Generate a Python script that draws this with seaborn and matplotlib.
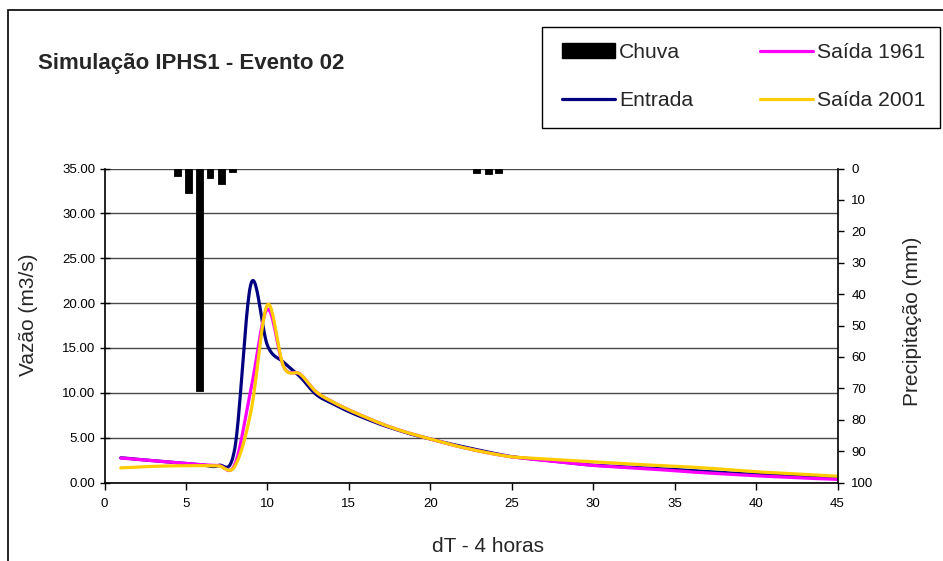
import numpy as np
import matplotlib
matplotlib.use("Agg")
import matplotlib.pyplot as plt
import seaborn as sns
from matplotlib.patches import Patch, Rectangle
from matplotlib.lines import Line2D
from matplotlib.ticker import FormatStrFormatter

# ---------------- data ----------------
dt = list(range(1, 46))
entrada = [2.75, 2.59, 2.43, 2.27, 2.11, 1.97, 1.90, 3.80, 22.2, 15.3,
           13.4, 11.8, 9.8, 8.8, 7.9, 7.15, 6.45, 5.85, 5.3, 4.85,
           4.4, 4.0, 3.6, 3.22, 2.88, 2.68, 2.5, 2.3, 2.1, 1.93,
           1.83, 1.73, 1.63, 1.54, 1.45, 1.33, 1.22, 1.10, 1.00, 0.90,
           0.82, 0.75, 0.68, 0.60, 0.52]
saida_1961 = [2.72, 2.57, 2.42, 2.27, 2.12, 1.98, 1.90, 2.00, 10.5, 19.3,
              12.9, 12.1, 10.1, 9.0, 8.1, 7.3, 6.55, 5.9, 5.35, 4.85,
              4.35, 3.9, 3.5, 3.15, 2.86, 2.65, 2.45, 2.27, 2.08, 1.90,
              1.78, 1.66, 1.55, 1.44, 1.30, 1.18, 1.06, 0.96, 0.86, 0.75,
              0.66, 0.57, 0.49, 0.42, 0.35]
saida_2001 = [1.63, 1.72, 1.80, 1.85, 1.87, 1.88, 1.85, 1.80, 8.0, 19.8,
              12.9, 12.1, 10.1, 9.0, 8.1, 7.3, 6.55, 5.9, 5.35, 4.85,
              4.35, 3.9, 3.5, 3.15, 2.86, 2.74, 2.63, 2.52, 2.41, 2.30,
              2.20, 2.10, 1.99, 1.90, 1.82, 1.72, 1.60, 1.48, 1.34, 1.20,
              1.10, 1.00, 0.90, 0.80, 0.70]
rain_x = [4.47, 5.15, 5.85, 6.48, 7.16, 7.87, 22.86, 23.56, 24.21]
rain_mm = [2.4, 7.8, 71.0, 2.9, 4.8, 1.1, 1.3, 1.7, 1.3]

x_ticks = list(range(0, 46, 5))
q_ticks = [0, 5, 10, 15, 20, 25, 30, 35]
p_ticks = list(range(0, 101, 10))

title = "Simulação IPHS1 - Evento 02"
ylabel_left = "Vazão (m3/s)"
ylabel_right = "Precipitação (mm)"
xlabel = "dT - 4 horas"
legend_labels = ["Chuva", "Entrada", "Saída 1961", "Saída 2001"]

# ---------------- style ----------------
sns.set_style("white")
plt.rcParams["font.family"] = ["Liberation Sans", "DejaVu Sans"]


def excel_smooth(x, y, n=24):
    """Smoothed-line rendering (cubic Hermite / Catmull-Rom, like Excel's 'smoothed line')."""
    x = np.asarray(x, float)
    y = np.asarray(y, float)
    m = np.empty_like(y)
    m[1:-1] = (y[2:] - y[:-2]) / 2.0
    m[0] = (y[1] - y[0]) / 2.0
    m[-1] = (y[-1] - y[-2]) / 2.0
    xs, ys = [x[0]], [y[0]]
    t = np.linspace(0, 1, n + 1)[1:]
    h00 = 2 * t**3 - 3 * t**2 + 1
    h10 = t**3 - 2 * t**2 + t
    h01 = -2 * t**3 + 3 * t**2
    h11 = t**3 - t**2
    for i in range(len(x) - 1):
        dx = x[i + 1] - x[i]
        xs.extend(x[i] + t * dx)
        ys.extend(h00 * y[i] + h10 * m[i] + h01 * y[i + 1] + h11 * m[i + 1])
    return np.array(xs), np.array(ys)


W, H = 943, 561
fig = plt.figure(figsize=(W / 100, H / 100), dpi=100)
fig.patch.set_facecolor("white")
ax = fig.add_axes([104.5 / W, 1 - 482.5 / H, 733 / W, 314 / H])

series = [(entrada, "#000080"), (saida_1961, "#FF00FF"), (saida_2001, "#FFCC00")]
for vals, col in series:
    xs, ys = excel_smooth(dt, vals)
    sns.lineplot(x=xs, y=ys, ax=ax, color=col, lw=2.3, estimator=None,
                 sort=False, legend=False)

ax.set_xlim(0, 45)
ax.set_ylim(0, 35)
ax.set_xticks(x_ticks)
ax.set_yticks(q_ticks)
ax.yaxis.set_major_formatter(FormatStrFormatter("%.2f"))
ax.yaxis.grid(True, color="#4a4a4a", lw=1.0)
ax.xaxis.grid(False)
ax.set_axisbelow(True)
ax.set_xlabel("")
ax.set_ylabel("")
for s in ["top", "right"]:
    ax.spines[s].set_visible(False)
ax.spines["left"].set_color("black")
ax.spines["left"].set_linewidth(1.2)
ax.spines["bottom"].set_color("black")
ax.spines["bottom"].set_linewidth(1.2)
ax.tick_params(axis="y", direction="inout", length=7, width=1, labelsize=9.5,
               colors="black", pad=3, left=True)
ax.tick_params(axis="x", direction="out", length=5, width=1, labelsize=9.5,
               colors="black", pad=6, bottom=True)

ax2 = ax.twinx()
ax2.bar(rain_x, rain_mm, width=0.42, color="black", edgecolor="black",
        linewidth=0.6, bottom=0, zorder=3)
ax2.set_ylim(100, 0)
ax2.set_yticks(p_ticks)
for s in ["top", "left", "bottom"]:
    ax2.spines[s].set_visible(False)
ax2.spines["right"].set_color("black")
ax2.spines["right"].set_linewidth(1.2)
ax2.tick_params(axis="y", direction="out", length=4, width=1, labelsize=9.5,
                colors="black", pad=6, right=True)
ax2.set_ylabel("")

# texts
fig.text(38 / W, 1 - 63 / H, title, fontsize=16, weight="bold",
         ha="left", va="center")
fig.text(28 / W, 1 - 315 / H, ylabel_left, rotation=90, fontsize=15,
         ha="center", va="center")
fig.text(912 / W, 1 - 321 / H, ylabel_right, rotation=90, fontsize=15,
         ha="center", va="center")
fig.text(488 / W, 1 - 546 / H, xlabel, fontsize=15, ha="center", va="center")

# outer chart border (cropped at right and bottom)
fig.add_artist(Rectangle((8 / W, -0.2), 1.3, 1.2 - 10 / H,
                         transform=fig.transFigure, fill=False,
                         ec="black", lw=1.2))

# legend box
fig.add_artist(Rectangle((542 / W, 1 - 128 / H), (940 - 542) / W, (128 - 27) / H,
                         transform=fig.transFigure, fill=True, fc="white",
                         ec="black", lw=1.0, zorder=4))
handles = [Patch(facecolor="black", edgecolor="black"),
           Line2D([], [], color="#000080", lw=2.3),
           Line2D([], [], color="#FF00FF", lw=2.3),
           Line2D([], [], color="#FFCC00", lw=2.3)]
leg = fig.legend(handles, legend_labels, loc="center left",
                 bbox_to_anchor=(562 / W, 1 - 76.5 / H), ncol=2,
                 frameon=False, fontsize=15.2, handlelength=2.5,
                 handletextpad=0.19, columnspacing=3.17, labelspacing=1.38,
                 borderpad=0, borderaxespad=0)
leg.set_zorder(5)

fig.savefig("out.png", dpi=100)
